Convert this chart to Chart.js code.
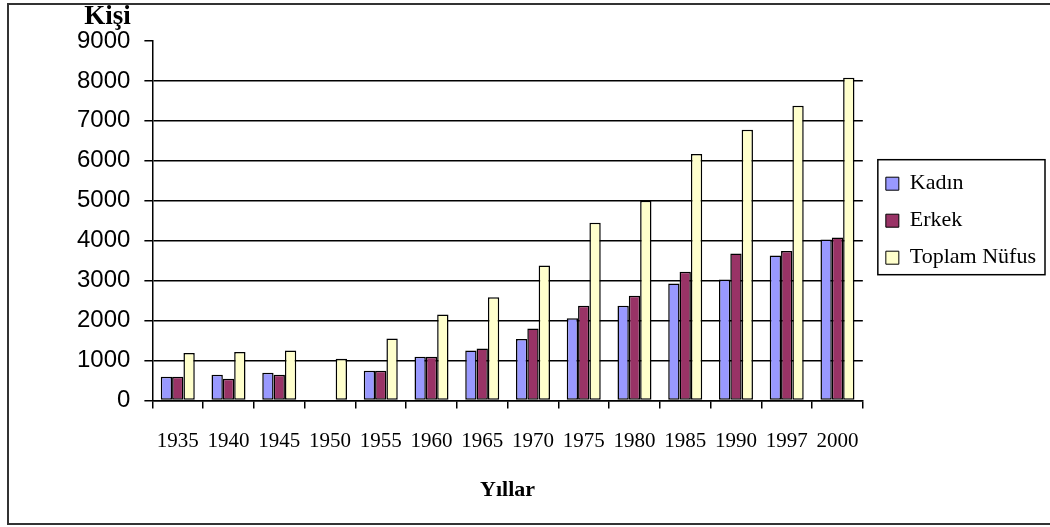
<!DOCTYPE html>
<html>
<head>
<meta charset="utf-8">
<script src="https://cdn.jsdelivr.net/npm/chart.js@4"></script>
<style>
  html, body { margin: 0; padding: 0; background: #fff; }
  #wrap { position: relative; width: 1050px; height: 527px; }
</style>
</head>
<body>
<div id="wrap"><canvas id="myChart" width="1050" height="527"></canvas></div>
<script>
const years = ["1935", "1940", "1945", "1950", "1955", "1960", "1965", "1970", "1975", "1980", "1985", "1990", "1997", "2000"];
const kadin = [590, 640, 690, null, 740, 1090, 1250, 1540, 2060, 2370, 2930, 3030, 3630, 4030];
const erkek = [590, 540, 640, null, 740, 1090, 1300, 1800, 2370, 2620, 3220, 3680, 3740, 4080];
const toplam = [1190, 1210, 1250, 1040, 1550, 2150, 2580, 3380, 4450, 5000, 6170, 6780, 7380, 8080];
const yTicks = [0, 1000, 2000, 3000, 4000, 5000, 6000, 7000, 8000, 9000];

// frame round the whole chart, the "Kişi" label and the legend box
const extras = {
    id: "extras",
    afterLayout(chart) {
        // push the legend a little away from the plot
        chart.legend.left += 8;
        chart.legend.right += 8;
    },
    afterDraw(chart) {
        const ctx = chart.ctx;
        const area = chart.chartArea;
        ctx.save();
        ctx.strokeStyle = "#333";
        ctx.lineWidth = 2;
        ctx.beginPath();
        ctx.moveTo(1052, 4);
        ctx.lineTo(8, 4);
        ctx.lineTo(8, 524);
        ctx.lineTo(1052, 524);
        ctx.stroke();

        ctx.fillStyle = "#000";
        ctx.font = "bold 27px 'Liberation Serif'";
        ctx.textAlign = "center";
        ctx.textBaseline = "middle";
        ctx.fillText("Kişi", area.left - 45, area.top - 24);

        const boxes = chart.legend.legendHitBoxes;
        if (boxes && boxes.length) {
            let x1 = Infinity, y1 = Infinity, x2 = -Infinity, y2 = -Infinity;
            boxes.forEach(b => {
                x1 = Math.min(x1, b.left); y1 = Math.min(y1, b.top);
                x2 = Math.max(x2, b.left + b.width); y2 = Math.max(y2, b.top + b.height);
            });
            ctx.strokeStyle = "#000";
            ctx.lineWidth = 1.5;
            ctx.strokeRect(x1 - 8, y1 - 13, x2 - x1 + 17, y2 - y1 + 19);
        }
        ctx.restore();
    }
};

const bar = (label, data, color) => ({
    label: label,
    data: data,
    backgroundColor: color,
    borderColor: "#000",
    borderWidth: 1.5,
    borderSkipped: false,
    categoryPercentage: 0.67,
    barPercentage: 1.0
});

const ctx = document.getElementById("myChart");
const chart = new Chart(ctx, {
    type: "bar",
    data: {
        labels: years,
        datasets: [
            bar("Kadın", kadin, "#9999FF"),
            bar("Erkek", erkek, "#993366"),
            bar("Toplam Nüfus", toplam, "#FFFFCC")
        ]
    },
    options: {
        responsive: false,
        animation: false,
        layout: { padding: { left: 63, top: 41, right: 12, bottom: 23 } },
        plugins: {
            tooltip: { enabled: false },
            legend: {
                position: "right",
                align: "center",
                fullSize: false,
                labels: {
                    color: "#000",
                    font: { family: "'Liberation Serif'", size: 22 },
                    boxWidth: 13,
                    boxHeight: 13,
                    padding: 15,
                    generateLabels(chart) {
                        return chart.data.datasets.map((ds, i) => ({
                            text: ds.label,
                            fillStyle: ds.backgroundColor,
                            strokeStyle: "#000",
                            lineWidth: 1,
                            datasetIndex: i,
                            fontColor: "#000"
                        }));
                    }
                }
            }
        },
        scales: {
            x: {
                grid: {
                    display: true,
                    offset: true,
                    drawOnChartArea: false,
                    drawTicks: true,
                    tickLength: 8,
                    color: "#000",
                    lineWidth: 1.5
                },
                border: { display: true, color: "#000", width: 1.5 },
                ticks: {
                    color: "#000",
                    padding: 20,
                    maxRotation: 0,
                    autoSkip: false,
                    font: { family: "'Liberation Serif'", size: 21 }
                },
                title: {
                    display: true,
                    text: "Yıllar",
                    color: "#000",
                    padding: { top: 4, bottom: 0 },
                    font: { family: "'Liberation Serif'", size: 22, weight: "bold" }
                }
            },
            y: {
                min: 0,
                max: 9000,
                afterBuildTicks(scale) {
                    scale.ticks = yTicks.map(v => ({ value: v }));
                },
                grid: {
                    color: c => (c.tick && c.tick.value === 9000 ? "rgba(0,0,0,0)" : "#000"),
                    tickColor: "#000",
                    lineWidth: 1.5,
                    tickLength: 8
                },
                border: { display: true, color: "#000", width: 1.5 },
                ticks: {
                    color: "#000",
                    padding: 14,
                    callback: v => String(v),
                    font: { family: "'Liberation Sans'", size: 24 }
                }
            }
        }
    },
    plugins: [extras]
});
</script>
</body>
</html>
